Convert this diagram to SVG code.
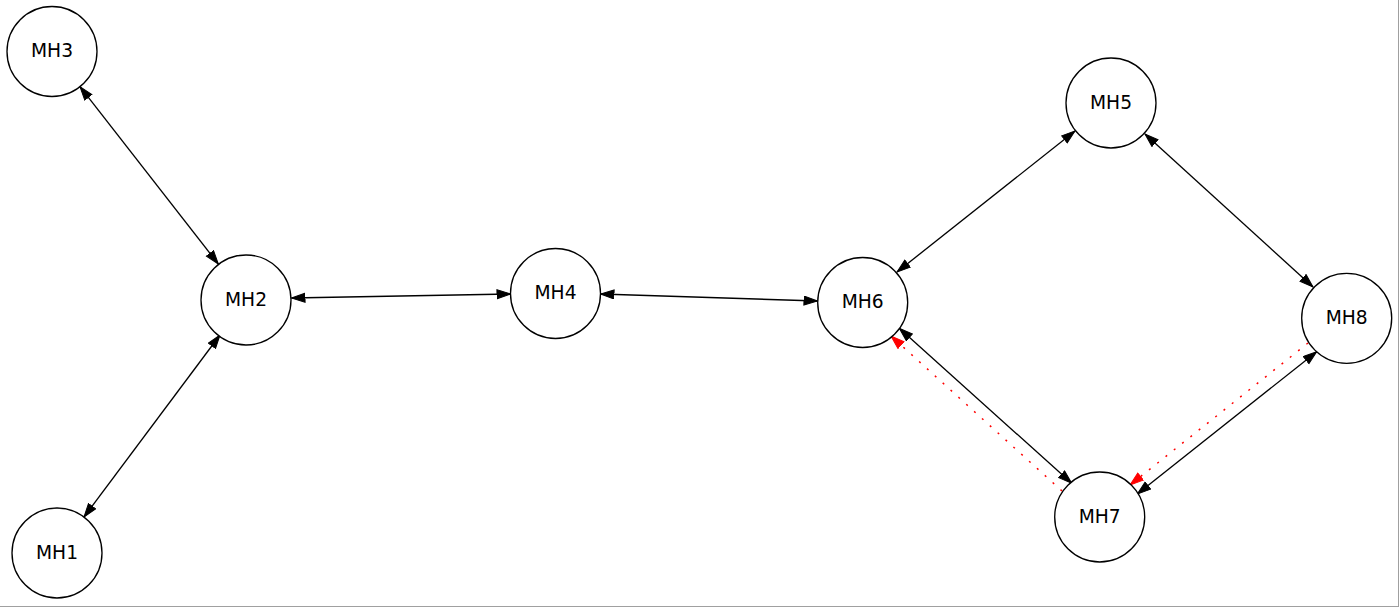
<svg xmlns="http://www.w3.org/2000/svg" width="1399" height="607" viewBox="0 0 1399 607">
  <style>
    .node circle { fill: #ffffff; stroke: #000000; stroke-width: 1.33; }
    .node text { font-family: "DejaVu Sans", "Liberation Sans", sans-serif; font-size: 18.67px; fill: #000000; text-anchor: middle; }
    .edge { fill: none; stroke: #000000; stroke-width: 1.33; }
    .both { marker-start: url(#arrowBlack); marker-end: url(#arrowBlack); }
    .dotted { fill: none; stroke: #ff0000; stroke-width: 1.5; stroke-dasharray: 2 8.6; marker-end: url(#arrowRed); }
  </style>
  <defs>
    <marker id="arrowBlack" markerUnits="userSpaceOnUse" markerWidth="16" markerHeight="12" refX="14" refY="5" orient="auto-start-reverse">
      <path d="M0.5,0.5 L14,5 L0.5,9.5 Z" fill="#000000" stroke="#000000" stroke-width="1"/>
    </marker>
    <marker id="arrowRed" markerUnits="userSpaceOnUse" markerWidth="16" markerHeight="12" refX="14" refY="5" orient="auto">
      <path d="M0.5,0.5 L14,5 L0.5,9.5 Z" fill="#ff0000" stroke="#ff0000" stroke-width="1"/>
    </marker>
  </defs>

  <rect x="0" y="0" width="1399" height="607" fill="#ffffff"/>
  <!-- frame -->
  <line x1="1398.5" y1="0" x2="1398.5" y2="607" stroke="#a0a0a0" stroke-width="1"/>
  <line x1="0" y1="606.5" x2="1399" y2="606.5" stroke="#a0a0a0" stroke-width="1"/>

  <g id="connectors">
    <line class="edge both" x1="80" y1="86.7" x2="218.3" y2="264"/>
    <line class="edge both" x1="220" y1="335" x2="84" y2="517"/>
    <line class="edge both" x1="291.5" y1="298" x2="510.5" y2="294"/>
    <line class="edge both" x1="600.5" y1="294" x2="817.5" y2="301"/>
    <line class="edge both" x1="1075" y1="131" x2="897" y2="272"/>
    <line class="edge both" x1="1145" y1="134" x2="1313" y2="287"/>
    <line class="edge both" x1="899.3" y1="328.3" x2="1071.7" y2="483.3"/>
    <line class="edge both" x1="1316.7" y1="351.7" x2="1137.3" y2="494"/>
    <line class="dotted" x1="1062" y1="491" x2="891" y2="336"/>
    <line class="dotted" x1="1308" y1="343" x2="1130" y2="485"/>
  </g>

  <g id="MH3" class="node">
    <circle cx="52" cy="51.5" r="45"/>
    <text x="52" y="57">MH3</text>
  </g>
  <g id="MH2" class="node">
    <circle cx="246" cy="300" r="45"/>
    <text x="246" y="305.5">MH2</text>
  </g>
  <g id="MH1" class="node">
    <circle cx="57" cy="553" r="45"/>
    <text x="57" y="558.5">MH1</text>
  </g>
  <g id="MH4" class="node">
    <circle cx="555.5" cy="293.5" r="45"/>
    <text x="555.5" y="299">MH4</text>
  </g>
  <g id="MH6" class="node">
    <circle cx="862.7" cy="302.5" r="45"/>
    <text x="862.7" y="308">MH6</text>
  </g>
  <g id="MH5" class="node">
    <circle cx="1111" cy="103" r="45"/>
    <text x="1111" y="108.5">MH5</text>
  </g>
  <g id="MH8" class="node">
    <circle cx="1346.7" cy="318.3" r="45"/>
    <text x="1346.7" y="323.8">MH8</text>
  </g>
  <g id="MH7" class="node">
    <circle cx="1099.7" cy="517" r="45"/>
    <text x="1099.7" y="522.5">MH7</text>
  </g>
</svg>
